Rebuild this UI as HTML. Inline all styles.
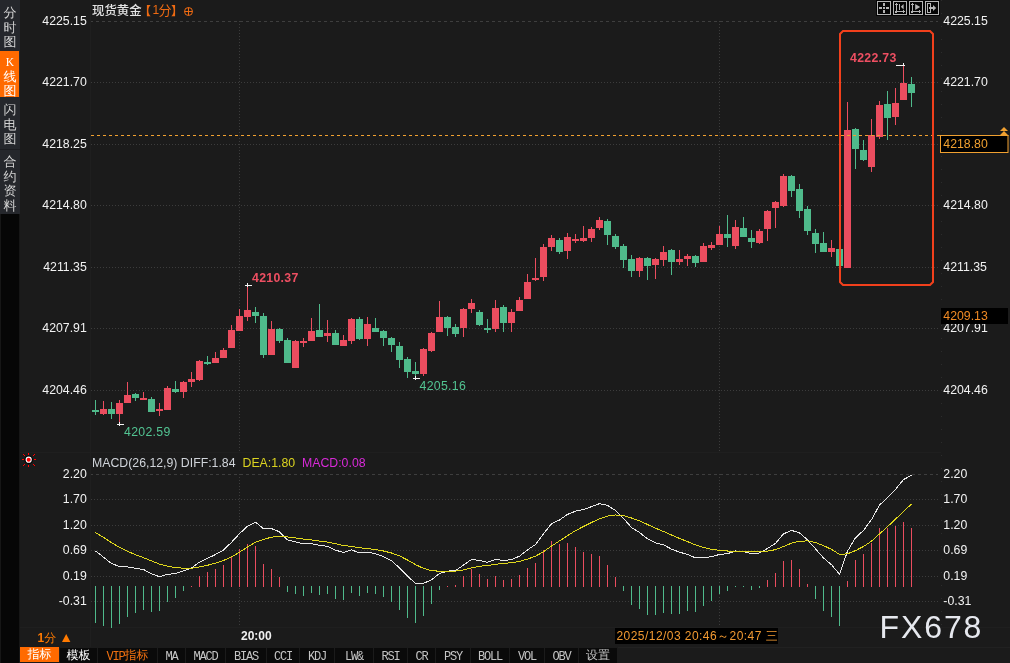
<!DOCTYPE html><html><head><meta charset="utf-8"><title>现货黄金</title><style>
html,body{margin:0;padding:0;background:#1b1b1b;width:1010px;height:663px;overflow:hidden}
svg{display:block}
.t{font-family:"Liberation Sans", "Noto Sans CJK SC", sans-serif;font-size:12px}
.c{font-family:"Liberation Sans", "WenQuanYi Zen Hei", sans-serif;font-size:12px}
.n{font-family:"Liberation Sans", "Noto Sans CJK SC", sans-serif;font-size:12.3px}
</style></head><body>
<svg width="1010" height="663" viewBox="0 0 1010 663">
<g shape-rendering="crispEdges">
<rect x="90" y="0" width="1" height="647" fill="#1f1f1f"/>
<rect x="20" y="452" width="921" height="1" fill="#1f1f1f"/>
<rect x="20" y="627" width="990" height="1" fill="#1f1f1f"/>
<line x1="941.5" y1="0" x2="941.5" y2="627" stroke="#2c2c2c" stroke-dasharray="1 12"/>
<line x1="91" y1="21.5" x2="938" y2="21.5" stroke="#3e3e3e" stroke-width="1" stroke-dasharray="3 3" stroke-dashoffset="1"/>
<line x1="91" y1="82.5" x2="938" y2="82.5" stroke="#3c3c3c" stroke-width="1" stroke-dasharray="1 2"/>
<line x1="91" y1="144.5" x2="938" y2="144.5" stroke="#3c3c3c" stroke-width="1" stroke-dasharray="1 2"/>
<line x1="91" y1="205.5" x2="938" y2="205.5" stroke="#3c3c3c" stroke-width="1" stroke-dasharray="1 2"/>
<line x1="91" y1="267.5" x2="938" y2="267.5" stroke="#3c3c3c" stroke-width="1" stroke-dasharray="1 2"/>
<line x1="91" y1="328.5" x2="938" y2="328.5" stroke="#3c3c3c" stroke-width="1" stroke-dasharray="1 2"/>
<line x1="91" y1="390.5" x2="938" y2="390.5" stroke="#3c3c3c" stroke-width="1" stroke-dasharray="1 2"/>
<line x1="239.5" y1="21" x2="239.5" y2="451" stroke="#3c3c3c" stroke-width="1" stroke-dasharray="1 2"/>
<line x1="239.5" y1="474" x2="239.5" y2="625" stroke="#3c3c3c" stroke-width="1" stroke-dasharray="1 2"/>
<line x1="719.5" y1="21" x2="719.5" y2="451" stroke="#3c3c3c" stroke-width="1" stroke-dasharray="1 2"/>
<line x1="719.5" y1="474" x2="719.5" y2="625" stroke="#3c3c3c" stroke-width="1" stroke-dasharray="1 2"/>
<line x1="91" y1="474.5" x2="938" y2="474.5" stroke="#3e3e3e" stroke-width="1" stroke-dasharray="3 3" stroke-dashoffset="1"/>
<line x1="91" y1="499.5" x2="938" y2="499.5" stroke="#3c3c3c" stroke-width="1" stroke-dasharray="1 2"/>
<line x1="91" y1="525.5" x2="938" y2="525.5" stroke="#3c3c3c" stroke-width="1" stroke-dasharray="1 2"/>
<line x1="91" y1="550.5" x2="938" y2="550.5" stroke="#3c3c3c" stroke-width="1" stroke-dasharray="1 2"/>
<line x1="91" y1="576.5" x2="938" y2="576.5" stroke="#3c3c3c" stroke-width="1" stroke-dasharray="1 2"/>
<line x1="91" y1="601.5" x2="938" y2="601.5" stroke="#3c3c3c" stroke-width="1" stroke-dasharray="1 2"/>
</g>
<g shape-rendering="crispEdges">
<rect x="95" y="400" width="1" height="15" fill="#4fba8b"/>
<rect x="92" y="410" width="7" height="2" fill="#4fba8b"/>
<rect x="103" y="401" width="1" height="14" fill="#eb4d5f"/>
<rect x="100" y="409" width="7" height="5" fill="#eb4d5f"/>
<rect x="111" y="402" width="1" height="17" fill="#4fba8b"/>
<rect x="108" y="409" width="7" height="5" fill="#4fba8b"/>
<rect x="119" y="400" width="1" height="23" fill="#eb4d5f"/>
<rect x="116" y="403" width="7" height="11" fill="#eb4d5f"/>
<rect x="127" y="382" width="1" height="21" fill="#eb4d5f"/>
<rect x="124" y="395" width="7" height="8" fill="#eb4d5f"/>
<rect x="135" y="393" width="1" height="8" fill="#4fba8b"/>
<rect x="132" y="394" width="7" height="4" fill="#4fba8b"/>
<rect x="143" y="392" width="1" height="8" fill="#eb4d5f"/>
<rect x="140" y="398" width="7" height="2" fill="#eb4d5f"/>
<rect x="151" y="397" width="1" height="15" fill="#4fba8b"/>
<rect x="148" y="399" width="7" height="13" fill="#4fba8b"/>
<rect x="159" y="403" width="1" height="13" fill="#eb4d5f"/>
<rect x="156" y="409" width="7" height="2" fill="#eb4d5f"/>
<rect x="167" y="386" width="1" height="24" fill="#eb4d5f"/>
<rect x="164" y="388" width="7" height="22" fill="#eb4d5f"/>
<rect x="175" y="381" width="1" height="12" fill="#4fba8b"/>
<rect x="172" y="389" width="7" height="3" fill="#4fba8b"/>
<rect x="183" y="381" width="1" height="17" fill="#eb4d5f"/>
<rect x="180" y="382" width="7" height="10" fill="#eb4d5f"/>
<rect x="191" y="372" width="1" height="15" fill="#eb4d5f"/>
<rect x="188" y="379" width="7" height="3" fill="#eb4d5f"/>
<rect x="199" y="360" width="1" height="21" fill="#eb4d5f"/>
<rect x="196" y="361" width="7" height="19" fill="#eb4d5f"/>
<rect x="207" y="356" width="1" height="9" fill="#4fba8b"/>
<rect x="204" y="362" width="7" height="2" fill="#4fba8b"/>
<rect x="215" y="352" width="1" height="11" fill="#eb4d5f"/>
<rect x="212" y="358" width="7" height="5" fill="#eb4d5f"/>
<rect x="223" y="348" width="1" height="10" fill="#eb4d5f"/>
<rect x="220" y="350" width="7" height="8" fill="#eb4d5f"/>
<rect x="231" y="325" width="1" height="23" fill="#eb4d5f"/>
<rect x="228" y="330" width="7" height="18" fill="#eb4d5f"/>
<rect x="239" y="309" width="1" height="22" fill="#eb4d5f"/>
<rect x="236" y="316" width="7" height="15" fill="#eb4d5f"/>
<rect x="247" y="285" width="1" height="36" fill="#eb4d5f"/>
<rect x="244" y="310" width="7" height="7" fill="#eb4d5f"/>
<rect x="255" y="307" width="1" height="16" fill="#4fba8b"/>
<rect x="252" y="312" width="7" height="4" fill="#4fba8b"/>
<rect x="263" y="313" width="1" height="45" fill="#4fba8b"/>
<rect x="260" y="316" width="7" height="39" fill="#4fba8b"/>
<rect x="271" y="321" width="1" height="34" fill="#eb4d5f"/>
<rect x="268" y="329" width="7" height="26" fill="#eb4d5f"/>
<rect x="279" y="328" width="1" height="15" fill="#4fba8b"/>
<rect x="276" y="329" width="7" height="12" fill="#4fba8b"/>
<rect x="287" y="338" width="1" height="25" fill="#4fba8b"/>
<rect x="284" y="340" width="7" height="23" fill="#4fba8b"/>
<rect x="295" y="340" width="1" height="28" fill="#eb4d5f"/>
<rect x="292" y="341" width="7" height="27" fill="#eb4d5f"/>
<rect x="303" y="338" width="1" height="9" fill="#eb4d5f"/>
<rect x="300" y="341" width="7" height="2" fill="#eb4d5f"/>
<rect x="311" y="318" width="1" height="23" fill="#eb4d5f"/>
<rect x="308" y="331" width="7" height="10" fill="#eb4d5f"/>
<rect x="319" y="304" width="1" height="33" fill="#4fba8b"/>
<rect x="316" y="330" width="7" height="7" fill="#4fba8b"/>
<rect x="327" y="320" width="1" height="22" fill="#eb4d5f"/>
<rect x="324" y="333" width="7" height="3" fill="#eb4d5f"/>
<rect x="335" y="330" width="1" height="15" fill="#4fba8b"/>
<rect x="332" y="333" width="7" height="12" fill="#4fba8b"/>
<rect x="343" y="335" width="1" height="11" fill="#eb4d5f"/>
<rect x="340" y="340" width="7" height="6" fill="#eb4d5f"/>
<rect x="351" y="318" width="1" height="26" fill="#eb4d5f"/>
<rect x="348" y="319" width="7" height="22" fill="#eb4d5f"/>
<rect x="359" y="317" width="1" height="23" fill="#4fba8b"/>
<rect x="356" y="319" width="7" height="20" fill="#4fba8b"/>
<rect x="367" y="317" width="1" height="29" fill="#eb4d5f"/>
<rect x="364" y="324" width="7" height="15" fill="#eb4d5f"/>
<rect x="375" y="318" width="1" height="14" fill="#4fba8b"/>
<rect x="372" y="328" width="7" height="4" fill="#4fba8b"/>
<rect x="383" y="330" width="1" height="16" fill="#4fba8b"/>
<rect x="380" y="331" width="7" height="7" fill="#4fba8b"/>
<rect x="391" y="337" width="1" height="15" fill="#4fba8b"/>
<rect x="388" y="338" width="7" height="7" fill="#4fba8b"/>
<rect x="399" y="342" width="1" height="26" fill="#4fba8b"/>
<rect x="396" y="346" width="7" height="14" fill="#4fba8b"/>
<rect x="407" y="357" width="1" height="21" fill="#4fba8b"/>
<rect x="404" y="359" width="7" height="13" fill="#4fba8b"/>
<rect x="415" y="362" width="1" height="16" fill="#4fba8b"/>
<rect x="412" y="371" width="7" height="3" fill="#4fba8b"/>
<rect x="423" y="348" width="1" height="28" fill="#eb4d5f"/>
<rect x="420" y="349" width="7" height="25" fill="#eb4d5f"/>
<rect x="431" y="332" width="1" height="20" fill="#eb4d5f"/>
<rect x="428" y="333" width="7" height="18" fill="#eb4d5f"/>
<rect x="439" y="301" width="1" height="31" fill="#eb4d5f"/>
<rect x="436" y="317" width="7" height="15" fill="#eb4d5f"/>
<rect x="447" y="316" width="1" height="20" fill="#4fba8b"/>
<rect x="444" y="317" width="7" height="11" fill="#4fba8b"/>
<rect x="455" y="324" width="1" height="13" fill="#4fba8b"/>
<rect x="452" y="327" width="7" height="7" fill="#4fba8b"/>
<rect x="463" y="308" width="1" height="29" fill="#eb4d5f"/>
<rect x="460" y="309" width="7" height="19" fill="#eb4d5f"/>
<rect x="471" y="299" width="1" height="14" fill="#eb4d5f"/>
<rect x="468" y="303" width="7" height="6" fill="#eb4d5f"/>
<rect x="479" y="310" width="1" height="16" fill="#4fba8b"/>
<rect x="476" y="312" width="7" height="13" fill="#4fba8b"/>
<rect x="487" y="319" width="1" height="14" fill="#4fba8b"/>
<rect x="484" y="328" width="7" height="2" fill="#4fba8b"/>
<rect x="495" y="300" width="1" height="32" fill="#eb4d5f"/>
<rect x="492" y="308" width="7" height="21" fill="#eb4d5f"/>
<rect x="503" y="305" width="1" height="27" fill="#4fba8b"/>
<rect x="500" y="307" width="7" height="16" fill="#4fba8b"/>
<rect x="511" y="309" width="1" height="23" fill="#eb4d5f"/>
<rect x="508" y="312" width="7" height="11" fill="#eb4d5f"/>
<rect x="519" y="297" width="1" height="14" fill="#eb4d5f"/>
<rect x="516" y="300" width="7" height="11" fill="#eb4d5f"/>
<rect x="527" y="274" width="1" height="25" fill="#eb4d5f"/>
<rect x="524" y="282" width="7" height="17" fill="#eb4d5f"/>
<rect x="535" y="258" width="1" height="23" fill="#eb4d5f"/>
<rect x="532" y="278" width="7" height="2" fill="#eb4d5f"/>
<rect x="543" y="244" width="1" height="37" fill="#eb4d5f"/>
<rect x="540" y="247" width="7" height="30" fill="#eb4d5f"/>
<rect x="551" y="235" width="1" height="16" fill="#eb4d5f"/>
<rect x="548" y="238" width="7" height="9" fill="#eb4d5f"/>
<rect x="559" y="238" width="1" height="16" fill="#4fba8b"/>
<rect x="556" y="240" width="7" height="12" fill="#4fba8b"/>
<rect x="567" y="233" width="1" height="26" fill="#eb4d5f"/>
<rect x="564" y="237" width="7" height="14" fill="#eb4d5f"/>
<rect x="575" y="234" width="1" height="9" fill="#eb4d5f"/>
<rect x="572" y="239" width="7" height="2" fill="#eb4d5f"/>
<rect x="583" y="226" width="1" height="16" fill="#eb4d5f"/>
<rect x="580" y="238" width="7" height="3" fill="#eb4d5f"/>
<rect x="591" y="227" width="1" height="15" fill="#eb4d5f"/>
<rect x="588" y="229" width="7" height="9" fill="#eb4d5f"/>
<rect x="599" y="217" width="1" height="13" fill="#eb4d5f"/>
<rect x="596" y="220" width="7" height="8" fill="#eb4d5f"/>
<rect x="607" y="219" width="1" height="26" fill="#4fba8b"/>
<rect x="604" y="221" width="7" height="14" fill="#4fba8b"/>
<rect x="615" y="234" width="1" height="15" fill="#4fba8b"/>
<rect x="612" y="236" width="7" height="11" fill="#4fba8b"/>
<rect x="623" y="244" width="1" height="24" fill="#4fba8b"/>
<rect x="620" y="246" width="7" height="14" fill="#4fba8b"/>
<rect x="631" y="255" width="1" height="22" fill="#4fba8b"/>
<rect x="628" y="259" width="7" height="12" fill="#4fba8b"/>
<rect x="639" y="257" width="1" height="20" fill="#eb4d5f"/>
<rect x="636" y="258" width="7" height="13" fill="#eb4d5f"/>
<rect x="647" y="257" width="1" height="23" fill="#4fba8b"/>
<rect x="644" y="258" width="7" height="8" fill="#4fba8b"/>
<rect x="655" y="258" width="1" height="21" fill="#eb4d5f"/>
<rect x="652" y="259" width="7" height="6" fill="#eb4d5f"/>
<rect x="663" y="246" width="1" height="20" fill="#eb4d5f"/>
<rect x="660" y="252" width="7" height="8" fill="#eb4d5f"/>
<rect x="671" y="249" width="1" height="26" fill="#4fba8b"/>
<rect x="668" y="250" width="7" height="12" fill="#4fba8b"/>
<rect x="679" y="250" width="1" height="15" fill="#eb4d5f"/>
<rect x="676" y="259" width="7" height="3" fill="#eb4d5f"/>
<rect x="687" y="254" width="1" height="12" fill="#eb4d5f"/>
<rect x="684" y="256" width="7" height="3" fill="#eb4d5f"/>
<rect x="695" y="255" width="1" height="12" fill="#4fba8b"/>
<rect x="692" y="256" width="7" height="7" fill="#4fba8b"/>
<rect x="703" y="243" width="1" height="19" fill="#eb4d5f"/>
<rect x="700" y="246" width="7" height="16" fill="#eb4d5f"/>
<rect x="711" y="242" width="1" height="8" fill="#eb4d5f"/>
<rect x="708" y="245" width="7" height="3" fill="#eb4d5f"/>
<rect x="719" y="226" width="1" height="19" fill="#eb4d5f"/>
<rect x="716" y="234" width="7" height="11" fill="#eb4d5f"/>
<rect x="727" y="215" width="1" height="32" fill="#4fba8b"/>
<rect x="724" y="234" width="7" height="4" fill="#4fba8b"/>
<rect x="735" y="220" width="1" height="29" fill="#eb4d5f"/>
<rect x="732" y="227" width="7" height="19" fill="#eb4d5f"/>
<rect x="743" y="217" width="1" height="20" fill="#4fba8b"/>
<rect x="740" y="228" width="7" height="9" fill="#4fba8b"/>
<rect x="751" y="230" width="1" height="18" fill="#4fba8b"/>
<rect x="748" y="238" width="7" height="4" fill="#4fba8b"/>
<rect x="759" y="229" width="1" height="15" fill="#eb4d5f"/>
<rect x="756" y="231" width="7" height="12" fill="#eb4d5f"/>
<rect x="767" y="210" width="1" height="31" fill="#eb4d5f"/>
<rect x="764" y="211" width="7" height="18" fill="#eb4d5f"/>
<rect x="775" y="201" width="1" height="27" fill="#eb4d5f"/>
<rect x="772" y="202" width="7" height="6" fill="#eb4d5f"/>
<rect x="783" y="174" width="1" height="33" fill="#eb4d5f"/>
<rect x="780" y="176" width="7" height="30" fill="#eb4d5f"/>
<rect x="791" y="175" width="1" height="22" fill="#4fba8b"/>
<rect x="788" y="176" width="7" height="15" fill="#4fba8b"/>
<rect x="799" y="184" width="1" height="34" fill="#4fba8b"/>
<rect x="796" y="189" width="7" height="22" fill="#4fba8b"/>
<rect x="807" y="206" width="1" height="29" fill="#4fba8b"/>
<rect x="804" y="209" width="7" height="22" fill="#4fba8b"/>
<rect x="815" y="229" width="1" height="24" fill="#4fba8b"/>
<rect x="812" y="233" width="7" height="11" fill="#4fba8b"/>
<rect x="823" y="232" width="1" height="20" fill="#4fba8b"/>
<rect x="820" y="243" width="7" height="9" fill="#4fba8b"/>
<rect x="831" y="240" width="1" height="17" fill="#eb4d5f"/>
<rect x="828" y="248" width="7" height="4" fill="#eb4d5f"/>
<rect x="839" y="249" width="1" height="17" fill="#4fba8b"/>
<rect x="836" y="249" width="7" height="17" fill="#4fba8b"/>
<rect x="847" y="102" width="1" height="166" fill="#eb4d5f"/>
<rect x="844" y="130" width="7" height="138" fill="#eb4d5f"/>
<rect x="855" y="128" width="1" height="41" fill="#4fba8b"/>
<rect x="852" y="129" width="7" height="20" fill="#4fba8b"/>
<rect x="863" y="140" width="1" height="21" fill="#4fba8b"/>
<rect x="860" y="150" width="7" height="10" fill="#4fba8b"/>
<rect x="871" y="119" width="1" height="53" fill="#eb4d5f"/>
<rect x="868" y="135" width="7" height="32" fill="#eb4d5f"/>
<rect x="879" y="101" width="1" height="38" fill="#eb4d5f"/>
<rect x="876" y="105" width="7" height="32" fill="#eb4d5f"/>
<rect x="887" y="91" width="1" height="49" fill="#4fba8b"/>
<rect x="884" y="104" width="7" height="14" fill="#4fba8b"/>
<rect x="895" y="88" width="1" height="37" fill="#eb4d5f"/>
<rect x="892" y="103" width="7" height="14" fill="#eb4d5f"/>
<rect x="903" y="65" width="1" height="35" fill="#eb4d5f"/>
<rect x="900" y="83" width="7" height="17" fill="#eb4d5f"/>
<rect x="911" y="77" width="1" height="30" fill="#4fba8b"/>
<rect x="908" y="84" width="7" height="9" fill="#4fba8b"/>
</g>
<line x1="91" y1="135.5" x2="940" y2="135.5" stroke="#f0a030" stroke-width="1" stroke-dasharray="3 3" shape-rendering="crispEdges"/>
<g shape-rendering="crispEdges">
<rect x="95" y="586" width="1" height="37" fill="#4fba8b"/>
<rect x="103" y="586" width="1" height="40" fill="#4fba8b"/>
<rect x="111" y="586" width="1" height="42" fill="#4fba8b"/>
<rect x="119" y="586" width="1" height="38" fill="#4fba8b"/>
<rect x="127" y="586" width="1" height="31" fill="#4fba8b"/>
<rect x="135" y="586" width="1" height="27" fill="#4fba8b"/>
<rect x="143" y="586" width="1" height="24" fill="#4fba8b"/>
<rect x="151" y="586" width="1" height="26" fill="#4fba8b"/>
<rect x="159" y="586" width="1" height="25" fill="#4fba8b"/>
<rect x="167" y="586" width="1" height="16" fill="#4fba8b"/>
<rect x="175" y="586" width="1" height="12" fill="#4fba8b"/>
<rect x="183" y="586" width="1" height="5" fill="#4fba8b"/>
<rect x="191" y="586" width="1" height="1" fill="#eb4d5f"/>
<rect x="199" y="576" width="1" height="11" fill="#eb4d5f"/>
<rect x="207" y="572" width="1" height="15" fill="#eb4d5f"/>
<rect x="215" y="569" width="1" height="18" fill="#eb4d5f"/>
<rect x="223" y="565" width="1" height="22" fill="#eb4d5f"/>
<rect x="231" y="557" width="1" height="30" fill="#eb4d5f"/>
<rect x="239" y="549" width="1" height="38" fill="#eb4d5f"/>
<rect x="247" y="544" width="1" height="43" fill="#eb4d5f"/>
<rect x="255" y="546" width="1" height="41" fill="#eb4d5f"/>
<rect x="263" y="564" width="1" height="23" fill="#eb4d5f"/>
<rect x="271" y="569" width="1" height="18" fill="#eb4d5f"/>
<rect x="279" y="577" width="1" height="10" fill="#eb4d5f"/>
<rect x="287" y="586" width="1" height="6" fill="#4fba8b"/>
<rect x="295" y="586" width="1" height="8" fill="#4fba8b"/>
<rect x="303" y="586" width="1" height="10" fill="#4fba8b"/>
<rect x="311" y="586" width="1" height="7" fill="#4fba8b"/>
<rect x="319" y="586" width="1" height="9" fill="#4fba8b"/>
<rect x="327" y="586" width="1" height="8" fill="#4fba8b"/>
<rect x="335" y="586" width="1" height="13" fill="#4fba8b"/>
<rect x="343" y="586" width="1" height="14" fill="#4fba8b"/>
<rect x="351" y="586" width="1" height="7" fill="#4fba8b"/>
<rect x="359" y="586" width="1" height="10" fill="#4fba8b"/>
<rect x="367" y="586" width="1" height="7" fill="#4fba8b"/>
<rect x="375" y="586" width="1" height="8" fill="#4fba8b"/>
<rect x="383" y="586" width="1" height="11" fill="#4fba8b"/>
<rect x="391" y="586" width="1" height="16" fill="#4fba8b"/>
<rect x="399" y="586" width="1" height="24" fill="#4fba8b"/>
<rect x="407" y="586" width="1" height="32" fill="#4fba8b"/>
<rect x="415" y="586" width="1" height="37" fill="#4fba8b"/>
<rect x="423" y="586" width="1" height="30" fill="#4fba8b"/>
<rect x="431" y="586" width="1" height="18" fill="#4fba8b"/>
<rect x="439" y="586" width="1" height="4" fill="#4fba8b"/>
<rect x="447" y="586" width="1" height="1" fill="#eb4d5f"/>
<rect x="455" y="585" width="1" height="2" fill="#eb4d5f"/>
<rect x="463" y="576" width="1" height="11" fill="#eb4d5f"/>
<rect x="471" y="569" width="1" height="18" fill="#eb4d5f"/>
<rect x="479" y="574" width="1" height="13" fill="#eb4d5f"/>
<rect x="487" y="579" width="1" height="8" fill="#eb4d5f"/>
<rect x="495" y="576" width="1" height="11" fill="#eb4d5f"/>
<rect x="503" y="580" width="1" height="7" fill="#eb4d5f"/>
<rect x="511" y="579" width="1" height="8" fill="#eb4d5f"/>
<rect x="519" y="575" width="1" height="12" fill="#eb4d5f"/>
<rect x="527" y="568" width="1" height="19" fill="#eb4d5f"/>
<rect x="535" y="563" width="1" height="24" fill="#eb4d5f"/>
<rect x="543" y="550" width="1" height="37" fill="#eb4d5f"/>
<rect x="551" y="541" width="1" height="46" fill="#eb4d5f"/>
<rect x="559" y="544" width="1" height="43" fill="#eb4d5f"/>
<rect x="567" y="543" width="1" height="44" fill="#eb4d5f"/>
<rect x="575" y="547" width="1" height="40" fill="#eb4d5f"/>
<rect x="583" y="552" width="1" height="35" fill="#eb4d5f"/>
<rect x="591" y="554" width="1" height="33" fill="#eb4d5f"/>
<rect x="599" y="556" width="1" height="31" fill="#eb4d5f"/>
<rect x="607" y="565" width="1" height="22" fill="#eb4d5f"/>
<rect x="615" y="577" width="1" height="10" fill="#eb4d5f"/>
<rect x="623" y="586" width="1" height="5" fill="#4fba8b"/>
<rect x="631" y="586" width="1" height="19" fill="#4fba8b"/>
<rect x="639" y="586" width="1" height="23" fill="#4fba8b"/>
<rect x="647" y="586" width="1" height="29" fill="#4fba8b"/>
<rect x="655" y="586" width="1" height="29" fill="#4fba8b"/>
<rect x="663" y="586" width="1" height="27" fill="#4fba8b"/>
<rect x="671" y="586" width="1" height="28" fill="#4fba8b"/>
<rect x="679" y="586" width="1" height="28" fill="#4fba8b"/>
<rect x="687" y="586" width="1" height="25" fill="#4fba8b"/>
<rect x="695" y="586" width="1" height="26" fill="#4fba8b"/>
<rect x="703" y="586" width="1" height="20" fill="#4fba8b"/>
<rect x="711" y="586" width="1" height="15" fill="#4fba8b"/>
<rect x="719" y="586" width="1" height="8" fill="#4fba8b"/>
<rect x="727" y="586" width="1" height="5" fill="#4fba8b"/>
<rect x="735" y="586" width="1" height="1" fill="#4fba8b"/>
<rect x="743" y="586" width="1" height="1" fill="#4fba8b"/>
<rect x="751" y="586" width="1" height="4" fill="#4fba8b"/>
<rect x="759" y="586" width="1" height="2" fill="#4fba8b"/>
<rect x="767" y="580" width="1" height="7" fill="#eb4d5f"/>
<rect x="775" y="573" width="1" height="14" fill="#eb4d5f"/>
<rect x="783" y="561" width="1" height="26" fill="#eb4d5f"/>
<rect x="791" y="560" width="1" height="27" fill="#eb4d5f"/>
<rect x="799" y="569" width="1" height="18" fill="#eb4d5f"/>
<rect x="807" y="584" width="1" height="3" fill="#eb4d5f"/>
<rect x="815" y="586" width="1" height="13" fill="#4fba8b"/>
<rect x="823" y="586" width="1" height="25" fill="#4fba8b"/>
<rect x="831" y="586" width="1" height="31" fill="#4fba8b"/>
<rect x="839" y="586" width="1" height="40" fill="#4fba8b"/>
<rect x="847" y="581" width="1" height="6" fill="#eb4d5f"/>
<rect x="855" y="560" width="1" height="27" fill="#eb4d5f"/>
<rect x="863" y="554" width="1" height="33" fill="#eb4d5f"/>
<rect x="871" y="543" width="1" height="44" fill="#eb4d5f"/>
<rect x="879" y="528" width="1" height="59" fill="#eb4d5f"/>
<rect x="887" y="528" width="1" height="59" fill="#eb4d5f"/>
<rect x="895" y="526" width="1" height="61" fill="#eb4d5f"/>
<rect x="903" y="522" width="1" height="65" fill="#eb4d5f"/>
<rect x="911" y="528" width="1" height="59" fill="#eb4d5f"/>
</g>
<polyline points="95.5,550.9 103.5,557.2 111.5,563.6 119.5,566.4 127.5,567.0 135.5,568.3 143.5,569.5 151.5,573.9 159.5,576.7 167.5,574.4 175.5,573.5 183.5,570.7 191.5,568.1 199.5,562.1 207.5,558.4 215.5,554.5 223.5,550.0 231.5,542.3 239.5,533.7 247.5,526.2 255.5,522.2 263.5,528.7 271.5,528.6 279.5,531.8 287.5,539.9 295.5,541.9 303.5,543.9 311.5,543.7 319.5,545.4 327.5,546.3 335.5,550.1 343.5,552.5 351.5,549.9 359.5,552.8 367.5,552.1 375.5,553.7 383.5,556.6 391.5,560.8 399.5,567.8 407.5,576.2 415.5,583.3 423.5,583.3 431.5,579.8 439.5,573.5 447.5,571.1 455.5,570.7 463.5,565.1 471.5,559.5 479.5,560.4 487.5,562.3 495.5,559.3 503.5,560.6 511.5,559.5 519.5,556.2 527.5,549.9 535.5,544.5 543.5,533.7 551.5,523.8 559.5,520.0 567.5,514.4 575.5,511.2 583.5,509.4 591.5,506.7 599.5,503.6 607.5,505.4 615.5,510.5 623.5,518.3 631.5,527.5 639.5,532.5 647.5,538.8 655.5,542.8 663.5,544.8 671.5,549.1 679.5,552.2 687.5,554.4 695.5,557.9 703.5,557.3 711.5,556.9 719.5,554.4 727.5,553.7 735.5,551.0 743.5,551.6 751.5,553.6 759.5,553.0 767.5,548.5 775.5,543.3 783.5,533.9 791.5,530.4 799.5,532.9 807.5,539.9 815.5,548.8 823.5,558.0 831.5,564.7 839.5,574.2 847.5,551.2 855.5,537.8 863.5,530.4 871.5,519.6 879.5,505.1 887.5,497.6 895.5,489.4 903.5,479.6 911.5,475.3" fill="none" stroke="#e8e8e8" stroke-width="1" shape-rendering="crispEdges"/>
<polyline points="95.5,532.5 103.5,537.4 111.5,542.7 119.5,547.4 127.5,551.3 135.5,554.7 143.5,557.7 151.5,560.9 159.5,564.1 167.5,566.1 175.5,567.6 183.5,568.2 191.5,568.2 199.5,567.0 207.5,565.3 215.5,563.1 223.5,560.5 231.5,556.9 239.5,552.2 247.5,547.0 255.5,542.1 263.5,539.4 271.5,537.2 279.5,536.1 287.5,536.9 295.5,537.9 303.5,539.1 311.5,540.0 319.5,541.1 327.5,542.1 335.5,543.7 343.5,545.5 351.5,546.4 359.5,547.7 367.5,548.6 375.5,549.6 383.5,551.0 391.5,553.0 399.5,555.9 407.5,560.0 415.5,564.6 423.5,568.4 431.5,570.7 439.5,571.2 447.5,571.2 455.5,571.1 463.5,569.9 471.5,567.8 479.5,566.3 487.5,565.5 495.5,564.3 503.5,563.5 511.5,562.7 519.5,561.4 527.5,559.1 535.5,556.2 543.5,551.7 551.5,546.1 559.5,540.9 567.5,535.6 575.5,530.7 583.5,526.5 591.5,522.5 599.5,518.7 607.5,516.1 615.5,515.0 623.5,515.6 631.5,518.0 639.5,520.9 647.5,524.5 655.5,528.2 663.5,531.5 671.5,535.0 679.5,538.4 687.5,541.6 695.5,544.9 703.5,547.4 711.5,549.3 719.5,550.3 727.5,551.0 735.5,551.0 743.5,551.1 751.5,551.6 759.5,551.9 767.5,551.2 775.5,549.6 783.5,546.5 791.5,543.2 799.5,541.2 807.5,540.9 815.5,542.5 823.5,545.6 831.5,549.4 839.5,554.4 847.5,553.8 855.5,550.6 863.5,546.5 871.5,541.1 879.5,533.9 887.5,526.7 895.5,519.2 903.5,511.3 911.5,504.1" fill="none" stroke="#e0d81c" stroke-width="1" shape-rendering="crispEdges"/>
<path d="M843 31 H930 L933 34 V282 L930 285 H843 L840 282 V34 Z" fill="none" stroke="#f2401c" stroke-width="2"/>
<text class="n" x="86.8" y="25" text-anchor="end" fill="#f2f2f2">4225.15</text>
<text class="n" x="943.3" y="25" fill="#f2f2f2">4225.15</text>
<text class="n" x="86.8" y="86" text-anchor="end" fill="#f2f2f2">4221.70</text>
<text class="n" x="943.3" y="86" fill="#f2f2f2">4221.70</text>
<text class="n" x="86.8" y="148" text-anchor="end" fill="#f2f2f2">4218.25</text>
<text class="n" x="943.3" y="148" fill="#f2f2f2">4218.25</text>
<text class="n" x="86.8" y="209" text-anchor="end" fill="#f2f2f2">4214.80</text>
<text class="n" x="943.3" y="209" fill="#f2f2f2">4214.80</text>
<text class="n" x="86.8" y="271" text-anchor="end" fill="#f2f2f2">4211.35</text>
<text class="n" x="943.3" y="271" fill="#f2f2f2">4211.35</text>
<text class="n" x="86.8" y="332" text-anchor="end" fill="#f2f2f2">4207.91</text>
<text class="n" x="943.3" y="332" fill="#f2f2f2">4207.91</text>
<text class="n" x="86.8" y="394" text-anchor="end" fill="#f2f2f2">4204.46</text>
<text class="n" x="943.3" y="394" fill="#f2f2f2">4204.46</text>
<text class="n" x="86.8" y="478" text-anchor="end" fill="#f2f2f2">2.20</text>
<text class="n" x="943.3" y="478" fill="#f2f2f2">2.20</text>
<text class="n" x="86.8" y="503" text-anchor="end" fill="#f2f2f2">1.70</text>
<text class="n" x="943.3" y="503" fill="#f2f2f2">1.70</text>
<text class="n" x="86.8" y="529" text-anchor="end" fill="#f2f2f2">1.20</text>
<text class="n" x="943.3" y="529" fill="#f2f2f2">1.20</text>
<text class="n" x="86.8" y="554" text-anchor="end" fill="#f2f2f2">0.69</text>
<text class="n" x="943.3" y="554" fill="#f2f2f2">0.69</text>
<text class="n" x="86.8" y="580" text-anchor="end" fill="#f2f2f2">0.19</text>
<text class="n" x="943.3" y="580" fill="#f2f2f2">0.19</text>
<text class="n" x="86.8" y="605" text-anchor="end" fill="#f2f2f2">-0.31</text>
<text class="n" x="943.3" y="605" fill="#f2f2f2">-0.31</text>
<rect x="941" y="308" width="67" height="16" fill="#000"/>
<text class="n" x="943.3" y="319.5" fill="#f08a24">4209.13</text>
<rect x="940.5" y="135.5" width="67.5" height="17" fill="#000" stroke="#f0a030" stroke-width="1"/>
<text class="n" x="943.3" y="147.6" fill="#f0a030">4218.80</text>
<path d="M1004 127 L1008 131 L1000 131 Z M1004 131 L1009 136 L999 136 Z" fill="#f0a030"/>
<g shape-rendering="crispEdges">
<rect x="117" y="424" width="7" height="1" fill="#f4f4f4"/>
<rect x="119" y="422" width="1" height="4" fill="#f4f4f4"/>
<rect x="245" y="285" width="7" height="1" fill="#f4f4f4"/>
<rect x="247" y="283" width="1" height="4" fill="#f4f4f4"/>
<rect x="413" y="378" width="7" height="1" fill="#f4f4f4"/>
<rect x="415" y="376" width="1" height="4" fill="#f4f4f4"/>
<rect x="896" y="65" width="9" height="1" fill="#f4f4f4"/>
<rect x="903" y="63" width="1" height="3" fill="#f4f4f4"/>
</g>
<text class="n" x="124" y="435.6" fill="#52c492" letter-spacing="0.3">4202.59</text>
<text class="n" x="252" y="282" fill="#ee4f62" font-weight="bold" letter-spacing="0.3">4210.37</text>
<text class="n" x="419.5" y="389.6" fill="#52c492" letter-spacing="0.3">4205.16</text>
<text class="n" x="850" y="62" fill="#ee4f62" font-weight="bold" letter-spacing="0.3">4222.73</text>
<text x="92" y="14.8" font-family="Liberation Sans, Noto Sans CJK SC, sans-serif" font-size="12.4" font-weight="500" fill="#e4e4e4">现货黄金</text>
<text x="139" y="16" font-family="Liberation Sans, Noto Sans CJK SC, sans-serif" font-size="12" font-weight="bold" fill="#ee6a12">【</text>
<text x="152.5" y="14.3" font-family="Liberation Sans, Noto Sans CJK SC, sans-serif" font-size="12" fill="#ee6a12">1</text>
<text x="158.6" y="14.8" font-family="Liberation Sans, Noto Sans CJK SC, sans-serif" font-size="13" fill="#ee6a12">分</text>
<text x="171" y="16" font-family="Liberation Sans, Noto Sans CJK SC, sans-serif" font-size="12" font-weight="bold" fill="#ee6a12">】</text>
<circle cx="188.5" cy="11.5" r="4" fill="none" stroke="#ee6a12" stroke-width="1"/>
<path d="M184.5 11.5 H192.5 M188.5 7.5 V15.5" stroke="#ee6a12" stroke-width="1"/>
<g shape-rendering="crispEdges">
<rect x="876" y="0" width="16" height="16" fill="#050505"/>
<rect x="877.5" y="1.5" width="13" height="13" fill="none" stroke="#b4b4b4" stroke-width="1"/>
<rect x="892" y="0" width="16" height="16" fill="#050505"/>
<rect x="893.5" y="1.5" width="13" height="13" fill="none" stroke="#b4b4b4" stroke-width="1"/>
<rect x="908" y="0" width="16" height="16" fill="#050505"/>
<rect x="909.5" y="1.5" width="13" height="13" fill="none" stroke="#b4b4b4" stroke-width="1"/>
<rect x="924" y="0" width="16" height="16" fill="#050505"/>
<rect x="925.5" y="1.5" width="13" height="13" fill="none" stroke="#b4b4b4" stroke-width="1"/>
<g fill="#b4b4b4">
<rect x="883" y="3" width="2" height="3"/><rect x="883" y="7" width="2" height="2"/><rect x="883" y="10" width="2" height="3"/><rect x="879" y="7" width="3" height="2"/><rect x="886" y="7" width="3" height="2"/>
<rect x="896" y="3" width="1" height="10"/><rect x="895" y="4" width="3" height="1"/><rect x="895" y="11" width="10" height="1"/><rect x="903" y="10" width="1" height="3"/><rect x="895" y="12" width="1" height="1"/>
<rect x="899" y="4" width="1" height="6"/>
</g>
<path d="M900.8 6.8 L903.6 4 L903.6 9.6 Z" fill="#b4b4b4" shape-rendering="auto"/>
<g fill="#b4b4b4"><rect x="912" y="3" width="1" height="10"/><rect x="911" y="4" width="3" height="1"/><rect x="911" y="11" width="10" height="1"/><rect x="919" y="10" width="1" height="3"/><rect x="911" y="12" width="1" height="1"/></g>
<path d="M915.2 4 L920.2 7 L915.2 10 Z" fill="#b4b4b4" shape-rendering="auto"/>
<rect x="927.5" y="3.5" width="3" height="9" fill="none" stroke="#b4b4b4" stroke-width="1"/>
<rect x="929" y="7" width="5" height="2" fill="#b4b4b4"/>
<path d="M933 5 L936.2 8 L933 11 Z" fill="#b4b4b4" shape-rendering="auto"/>
</g>
<circle cx="28.7" cy="459.7" r="4.3" fill="#000"/><circle cx="28.7" cy="459.7" r="3.1" fill="#fff"/><circle cx="28.7" cy="459.7" r="2" fill="#f00"/>
<g fill="#f00" shape-rendering="crispEdges"><rect x="28" y="453" width="1" height="2"/><rect x="28" y="465" width="1" height="2"/><rect x="22" y="459" width="2" height="1"/><rect x="34" y="459" width="2" height="1"/>
<rect x="23" y="454" width="1" height="1"/>
<rect x="24" y="455" width="1" height="1"/>
<rect x="34" y="454" width="1" height="1"/>
<rect x="33" y="455" width="1" height="1"/>
<rect x="23" y="465" width="1" height="1"/>
<rect x="24" y="464" width="1" height="1"/>
<rect x="34" y="465" width="1" height="1"/>
<rect x="33" y="464" width="1" height="1"/>
</g>
<text class="n" x="92" y="467" fill="#d0d4da">MACD(26,12,9) DIFF:1.84</text>
<text class="n" x="242.5" y="467" fill="#dcd420">DEA:1.80</text>
<text class="n" x="302" y="467" fill="#d82ad8">MACD:0.08</text>
<text class="t" x="241" y="640" fill="#f0f0f0" font-weight="bold">20:00</text>
<text class="c" x="37.5" y="642" fill="#ff7a00" font-weight="bold">1分</text>
<path d="M62 642 L66.2 634 L70.4 642 Z" fill="#ff7a00"/>
<rect x="615" y="628" width="163" height="16" fill="#000"/>
<text class="c" x="616.5" y="640" fill="#f29a32" letter-spacing="0.45">2025/12/03 20:46～20:47 三</text>
<text x="879.5" y="638.2" font-family="Liberation Sans, sans-serif" font-size="32" fill="#e6e8ee" letter-spacing="1.9">FX678</text>
</svg>
<div style="position:absolute;left:0;top:0;width:20px;height:214px;background:#25272c"></div>
<div style="position:absolute;left:0;top:214px;width:20px;height:449px;background:#161616"></div>
<div style="position:absolute;left:1px;top:214px;width:18px;height:449px;background:#060606"></div>
<div style="position:absolute;left:0;top:51px;width:19px;height:46px;background:#ff6a00"></div>
<div style="position:absolute;left:0;top:149px;width:20px;height:1px;background:#1c1d21"></div>
<div style="position:absolute;left:3px;top:6.0px;width:14px;font-family:'Liberation Sans', 'WenQuanYi Zen Hei', sans-serif;font-size:13px;line-height:14.5px;color:#d4d4d4;text-align:center"><div>分</div><div>时</div><div>图</div></div>
<div style="position:absolute;left:3px;top:55.0px;width:14px;font-family:'Liberation Sans', 'WenQuanYi Zen Hei', sans-serif;font-size:13px;line-height:14.5px;color:#ffffff;text-align:center"><div style="font-family:'Liberation Serif',serif;font-size:11.5px">K</div><div>线</div><div>图</div></div>
<div style="position:absolute;left:3px;top:103.0px;width:14px;font-family:'Liberation Sans', 'WenQuanYi Zen Hei', sans-serif;font-size:13px;line-height:14.5px;color:#d4d4d4;text-align:center"><div>闪</div><div>电</div><div>图</div></div>
<div style="position:absolute;left:3px;top:155.0px;width:14px;font-family:'Liberation Sans', 'WenQuanYi Zen Hei', sans-serif;font-size:13px;line-height:14.5px;color:#d4d4d4;text-align:center"><div>合</div><div>约</div><div>资</div><div>料</div></div>
<div style="position:absolute;left:20px;top:647px;width:990px;height:16px;background:#1b1b1b"></div>
<div style="position:absolute;left:20px;top:647px;width:39px;height:15px;background:#ff6a00"></div>
<div style="position:absolute;left:618px;top:647px;width:392px;height:1px;background:#212121"></div>
<div style="position:absolute;left:60px;top:648px;width:37px;height:15px;background:#0a0a0a"></div>
<div style="position:absolute;left:98px;top:648px;width:59px;height:15px;background:#0a0a0a"></div>
<div style="position:absolute;left:158px;top:648px;width:27px;height:15px;background:#0a0a0a"></div>
<div style="position:absolute;left:186px;top:648px;width:39px;height:15px;background:#0a0a0a"></div>
<div style="position:absolute;left:226px;top:648px;width:40px;height:15px;background:#0a0a0a"></div>
<div style="position:absolute;left:267px;top:648px;width:32px;height:15px;background:#0a0a0a"></div>
<div style="position:absolute;left:300px;top:648px;width:34px;height:15px;background:#0a0a0a"></div>
<div style="position:absolute;left:335px;top:648px;width:38px;height:15px;background:#0a0a0a"></div>
<div style="position:absolute;left:374px;top:648px;width:33px;height:15px;background:#0a0a0a"></div>
<div style="position:absolute;left:408px;top:648px;width:27px;height:15px;background:#0a0a0a"></div>
<div style="position:absolute;left:436px;top:648px;width:34px;height:15px;background:#0a0a0a"></div>
<div style="position:absolute;left:471px;top:648px;width:38px;height:15px;background:#0a0a0a"></div>
<div style="position:absolute;left:510px;top:648px;width:34px;height:15px;background:#0a0a0a"></div>
<div style="position:absolute;left:545px;top:648px;width:33px;height:15px;background:#0a0a0a"></div>
<div style="position:absolute;left:579px;top:648px;width:38px;height:15px;background:#0a0a0a"></div>
<div style="position:absolute;left:20px;top:645px;width:39px;height:15px;line-height:15px;text-align:center;white-space:nowrap;color:#ffffff"><span style="font-family:'Liberation Sans', 'WenQuanYi Zen Hei', sans-serif;font-size:12px">指</span><span style="font-family:'Liberation Sans', 'WenQuanYi Zen Hei', sans-serif;font-size:12px">标</span></div>
<div style="position:absolute;left:60px;top:646px;width:37px;height:15px;line-height:15px;text-align:center;white-space:nowrap;color:#ffffff"><span style="font-family:'Liberation Sans', 'WenQuanYi Zen Hei', sans-serif;font-size:12px">模</span><span style="font-family:'Liberation Sans', 'WenQuanYi Zen Hei', sans-serif;font-size:12px">板</span></div>
<div style="position:absolute;left:98px;top:646px;width:59px;height:15px;line-height:15px;text-align:center;white-space:nowrap;color:#f07010"><span style="font-family:'Liberation Mono', 'WenQuanYi Zen Hei', monospace;font-size:12px;letter-spacing:-1.2px;position:relative;top:1px">V</span><span style="font-family:'Liberation Mono', 'WenQuanYi Zen Hei', monospace;font-size:12px;letter-spacing:-1.2px;position:relative;top:1px">I</span><span style="font-family:'Liberation Mono', 'WenQuanYi Zen Hei', monospace;font-size:12px;letter-spacing:-1.2px;position:relative;top:1px">P</span><span style="font-family:'Liberation Sans', 'WenQuanYi Zen Hei', sans-serif;font-size:12px">指</span><span style="font-family:'Liberation Sans', 'WenQuanYi Zen Hei', sans-serif;font-size:12px">标</span></div>
<div style="position:absolute;left:158px;top:646px;width:27px;height:15px;line-height:15px;text-align:center;white-space:nowrap;color:#c4c4c4"><span style="font-family:'Liberation Mono', 'WenQuanYi Zen Hei', monospace;font-size:12px;letter-spacing:-1.2px;position:relative;top:1px">M</span><span style="font-family:'Liberation Mono', 'WenQuanYi Zen Hei', monospace;font-size:12px;letter-spacing:-1.2px;position:relative;top:1px">A</span></div>
<div style="position:absolute;left:186px;top:646px;width:39px;height:15px;line-height:15px;text-align:center;white-space:nowrap;color:#c4c4c4"><span style="font-family:'Liberation Mono', 'WenQuanYi Zen Hei', monospace;font-size:12px;letter-spacing:-1.2px;position:relative;top:1px">M</span><span style="font-family:'Liberation Mono', 'WenQuanYi Zen Hei', monospace;font-size:12px;letter-spacing:-1.2px;position:relative;top:1px">A</span><span style="font-family:'Liberation Mono', 'WenQuanYi Zen Hei', monospace;font-size:12px;letter-spacing:-1.2px;position:relative;top:1px">C</span><span style="font-family:'Liberation Mono', 'WenQuanYi Zen Hei', monospace;font-size:12px;letter-spacing:-1.2px;position:relative;top:1px">D</span></div>
<div style="position:absolute;left:226px;top:646px;width:40px;height:15px;line-height:15px;text-align:center;white-space:nowrap;color:#c4c4c4"><span style="font-family:'Liberation Mono', 'WenQuanYi Zen Hei', monospace;font-size:12px;letter-spacing:-1.2px;position:relative;top:1px">B</span><span style="font-family:'Liberation Mono', 'WenQuanYi Zen Hei', monospace;font-size:12px;letter-spacing:-1.2px;position:relative;top:1px">I</span><span style="font-family:'Liberation Mono', 'WenQuanYi Zen Hei', monospace;font-size:12px;letter-spacing:-1.2px;position:relative;top:1px">A</span><span style="font-family:'Liberation Mono', 'WenQuanYi Zen Hei', monospace;font-size:12px;letter-spacing:-1.2px;position:relative;top:1px">S</span></div>
<div style="position:absolute;left:267px;top:646px;width:32px;height:15px;line-height:15px;text-align:center;white-space:nowrap;color:#c4c4c4"><span style="font-family:'Liberation Mono', 'WenQuanYi Zen Hei', monospace;font-size:12px;letter-spacing:-1.2px;position:relative;top:1px">C</span><span style="font-family:'Liberation Mono', 'WenQuanYi Zen Hei', monospace;font-size:12px;letter-spacing:-1.2px;position:relative;top:1px">C</span><span style="font-family:'Liberation Mono', 'WenQuanYi Zen Hei', monospace;font-size:12px;letter-spacing:-1.2px;position:relative;top:1px">I</span></div>
<div style="position:absolute;left:300px;top:646px;width:34px;height:15px;line-height:15px;text-align:center;white-space:nowrap;color:#c4c4c4"><span style="font-family:'Liberation Mono', 'WenQuanYi Zen Hei', monospace;font-size:12px;letter-spacing:-1.2px;position:relative;top:1px">K</span><span style="font-family:'Liberation Mono', 'WenQuanYi Zen Hei', monospace;font-size:12px;letter-spacing:-1.2px;position:relative;top:1px">D</span><span style="font-family:'Liberation Mono', 'WenQuanYi Zen Hei', monospace;font-size:12px;letter-spacing:-1.2px;position:relative;top:1px">J</span></div>
<div style="position:absolute;left:335px;top:646px;width:38px;height:15px;line-height:15px;text-align:center;white-space:nowrap;color:#c4c4c4"><span style="font-family:'Liberation Mono', 'WenQuanYi Zen Hei', monospace;font-size:12px;letter-spacing:-1.2px;position:relative;top:1px">L</span><span style="font-family:'Liberation Mono', 'WenQuanYi Zen Hei', monospace;font-size:12px;letter-spacing:-1.2px;position:relative;top:1px">W</span><span style="font-family:'Liberation Mono', 'WenQuanYi Zen Hei', monospace;font-size:12px;letter-spacing:-1.2px;position:relative;top:1px">&amp;</span></div>
<div style="position:absolute;left:374px;top:646px;width:33px;height:15px;line-height:15px;text-align:center;white-space:nowrap;color:#c4c4c4"><span style="font-family:'Liberation Mono', 'WenQuanYi Zen Hei', monospace;font-size:12px;letter-spacing:-1.2px;position:relative;top:1px">R</span><span style="font-family:'Liberation Mono', 'WenQuanYi Zen Hei', monospace;font-size:12px;letter-spacing:-1.2px;position:relative;top:1px">S</span><span style="font-family:'Liberation Mono', 'WenQuanYi Zen Hei', monospace;font-size:12px;letter-spacing:-1.2px;position:relative;top:1px">I</span></div>
<div style="position:absolute;left:408px;top:646px;width:27px;height:15px;line-height:15px;text-align:center;white-space:nowrap;color:#c4c4c4"><span style="font-family:'Liberation Mono', 'WenQuanYi Zen Hei', monospace;font-size:12px;letter-spacing:-1.2px;position:relative;top:1px">C</span><span style="font-family:'Liberation Mono', 'WenQuanYi Zen Hei', monospace;font-size:12px;letter-spacing:-1.2px;position:relative;top:1px">R</span></div>
<div style="position:absolute;left:436px;top:646px;width:34px;height:15px;line-height:15px;text-align:center;white-space:nowrap;color:#c4c4c4"><span style="font-family:'Liberation Mono', 'WenQuanYi Zen Hei', monospace;font-size:12px;letter-spacing:-1.2px;position:relative;top:1px">P</span><span style="font-family:'Liberation Mono', 'WenQuanYi Zen Hei', monospace;font-size:12px;letter-spacing:-1.2px;position:relative;top:1px">S</span><span style="font-family:'Liberation Mono', 'WenQuanYi Zen Hei', monospace;font-size:12px;letter-spacing:-1.2px;position:relative;top:1px">Y</span></div>
<div style="position:absolute;left:471px;top:646px;width:38px;height:15px;line-height:15px;text-align:center;white-space:nowrap;color:#c4c4c4"><span style="font-family:'Liberation Mono', 'WenQuanYi Zen Hei', monospace;font-size:12px;letter-spacing:-1.2px;position:relative;top:1px">B</span><span style="font-family:'Liberation Mono', 'WenQuanYi Zen Hei', monospace;font-size:12px;letter-spacing:-1.2px;position:relative;top:1px">O</span><span style="font-family:'Liberation Mono', 'WenQuanYi Zen Hei', monospace;font-size:12px;letter-spacing:-1.2px;position:relative;top:1px">L</span><span style="font-family:'Liberation Mono', 'WenQuanYi Zen Hei', monospace;font-size:12px;letter-spacing:-1.2px;position:relative;top:1px">L</span></div>
<div style="position:absolute;left:510px;top:646px;width:34px;height:15px;line-height:15px;text-align:center;white-space:nowrap;color:#c4c4c4"><span style="font-family:'Liberation Mono', 'WenQuanYi Zen Hei', monospace;font-size:12px;letter-spacing:-1.2px;position:relative;top:1px">V</span><span style="font-family:'Liberation Mono', 'WenQuanYi Zen Hei', monospace;font-size:12px;letter-spacing:-1.2px;position:relative;top:1px">O</span><span style="font-family:'Liberation Mono', 'WenQuanYi Zen Hei', monospace;font-size:12px;letter-spacing:-1.2px;position:relative;top:1px">L</span></div>
<div style="position:absolute;left:545px;top:646px;width:33px;height:15px;line-height:15px;text-align:center;white-space:nowrap;color:#c4c4c4"><span style="font-family:'Liberation Mono', 'WenQuanYi Zen Hei', monospace;font-size:12px;letter-spacing:-1.2px;position:relative;top:1px">O</span><span style="font-family:'Liberation Mono', 'WenQuanYi Zen Hei', monospace;font-size:12px;letter-spacing:-1.2px;position:relative;top:1px">B</span><span style="font-family:'Liberation Mono', 'WenQuanYi Zen Hei', monospace;font-size:12px;letter-spacing:-1.2px;position:relative;top:1px">V</span></div>
<div style="position:absolute;left:579px;top:646px;width:38px;height:15px;line-height:15px;text-align:center;white-space:nowrap;color:#c4c4c4"><span style="font-family:'Liberation Sans', 'WenQuanYi Zen Hei', sans-serif;font-size:12px">设</span><span style="font-family:'Liberation Sans', 'WenQuanYi Zen Hei', sans-serif;font-size:12px">置</span></div>
</body></html>
